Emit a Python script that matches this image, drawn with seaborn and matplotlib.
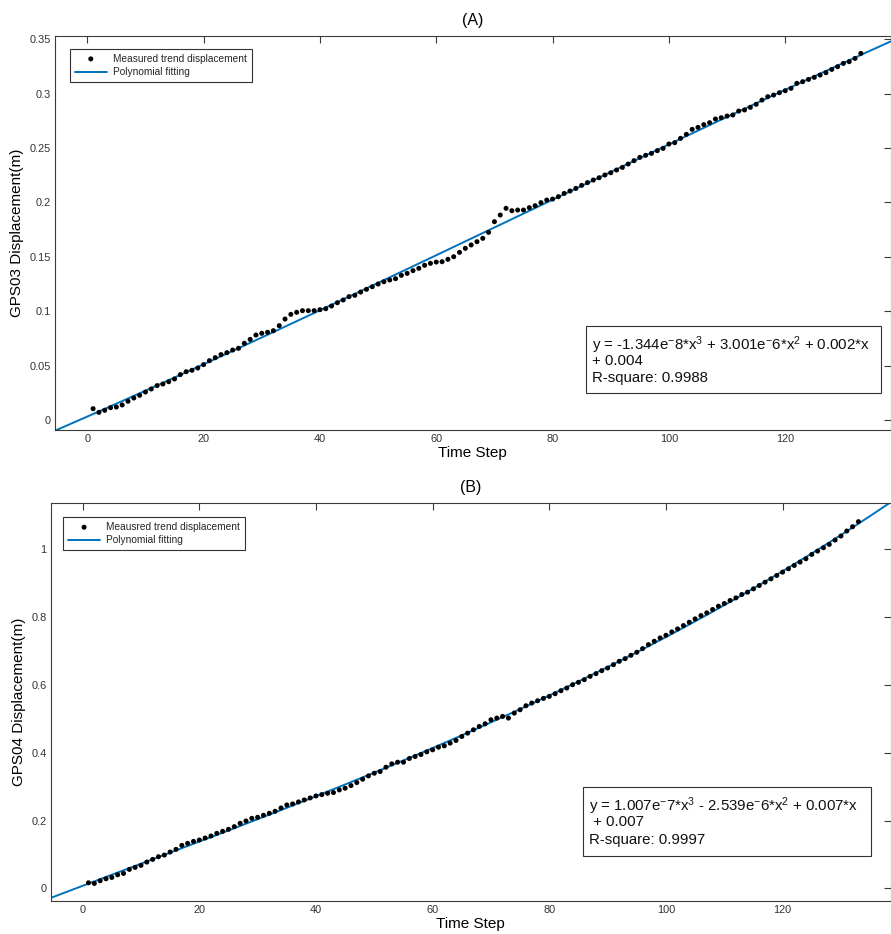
import numpy as np
import pandas as pd
import matplotlib
matplotlib.use("Agg")
import matplotlib.pyplot as plt
import seaborn as sns
from matplotlib.ticker import FuncFormatter
from matplotlib.patches import Rectangle

# ---------------- data ----------------
time_step = list(range(1, 134))

gps03_disp = [
    0.0104, 0.0070, 0.0089, 0.0113, 0.0119, 0.0138, 0.0172, 0.0202, 0.0227, 0.0257,
    0.0285, 0.0316, 0.0331, 0.0352, 0.0377, 0.0417, 0.0444, 0.0457, 0.0478, 0.0509,
    0.0545, 0.0573, 0.0601, 0.0619, 0.0643, 0.0659, 0.0705, 0.0741, 0.0781, 0.0797,
    0.0806, 0.0821, 0.0867, 0.0928, 0.0971, 0.0990, 0.1005, 0.1005, 0.1005, 0.1014,
    0.1023, 0.1048, 0.1078, 0.1103, 0.1134, 0.1146, 0.1176, 0.1201, 0.1225, 0.1250,
    0.1271, 0.1287, 0.1299, 0.1330, 0.1348, 0.1373, 0.1394, 0.1422, 0.1440, 0.1452,
    0.1455, 0.1477,
    0.1501, 0.1541, 0.1578, 0.1609, 0.1639, 0.1670, 0.1725, 0.1823,
    0.1884, 0.1946, 0.1924, 0.1930, 0.1930, 0.1952, 0.1970, 0.1998, 0.2022, 0.2031,
    0.2053, 0.2083, 0.2105, 0.2129, 0.2157, 0.2182, 0.2206, 0.2227, 0.2252, 0.2273,
    0.2298, 0.2322, 0.2353, 0.2384, 0.2414, 0.2433, 0.2451, 0.2476, 0.2497, 0.2537,
    0.2549, 0.2589, 0.2626, 0.2672, 0.2690, 0.2715, 0.2733, 0.2767, 0.2779, 0.2794,
    0.2804, 0.2840, 0.2850, 0.2874, 0.2902, 0.2941, 0.2972, 0.2987, 0.3009, 0.3027,
    0.3049, 0.3095, 0.3110, 0.3131, 0.3150, 0.3171, 0.3193, 0.3223, 0.3248, 0.3278,
    0.3294, 0.3324, 0.3370,
]

gps04_disp = [
    0.0167, 0.0148, 0.0227, 0.0286, 0.0325, 0.0404, 0.0443, 0.0562, 0.0621, 0.0680,
    0.0778, 0.0857, 0.0936, 0.0985, 0.1074, 0.1153, 0.1271, 0.1330, 0.1389, 0.1429,
    0.1488, 0.1547, 0.1626, 0.1685, 0.1744, 0.1823, 0.1921, 0.1990, 0.2069, 0.2099,
    0.2158, 0.2217, 0.2276, 0.2374, 0.2463, 0.2493, 0.2552, 0.2611, 0.2670, 0.2729,
    0.2768, 0.2808, 0.2828, 0.2906, 0.2956, 0.3034, 0.3123, 0.3222, 0.3320, 0.3399,
    0.3448, 0.3576, 0.3675, 0.3724, 0.3724, 0.3833, 0.3892, 0.3951, 0.4030, 0.4089,
    0.4167, 0.4207,
    0.4286, 0.4365, 0.4483, 0.4581, 0.4680, 0.4778, 0.4857, 0.4975,
    0.5025, 0.5074, 0.5025, 0.5172, 0.5271, 0.5389, 0.5468, 0.5537, 0.5606, 0.5665,
    0.5744, 0.5833, 0.5911, 0.6010, 0.6079, 0.6158, 0.6256, 0.6335, 0.6424, 0.6502,
    0.6601, 0.6700, 0.6778, 0.6877, 0.6966, 0.7074, 0.7192, 0.7291, 0.7389, 0.7468,
    0.7567, 0.7655, 0.7754, 0.7852, 0.7951, 0.8049, 0.8128, 0.8227, 0.8325, 0.8404,
    0.8493, 0.8571, 0.8670, 0.8739, 0.8837, 0.8936, 0.9034, 0.9133, 0.9232, 0.9330,
    0.9429, 0.9527, 0.9626, 0.9724, 0.9852, 0.9951, 1.0049, 1.0148, 1.0276, 1.0394,
    1.0542, 1.0670, 1.0818,
]

titles = ["(A)", "(B)"]
ylabels = ["GPS03 Displacement(m)", "GPS04 Displacement(m)"]
legend_meas = ["Measured trend displacement", "Meausred trend displacement"]
legend_fit = "Polynomial fitting"
eq_lines = [
    ["y = -1.344e$^{-}$8*x$^{3}$ + 3.001e$^{-}$6*x$^{2}$ + 0.002*x", "+ 0.004", "R-square: 0.9988"],
    ["y = 1.007e$^{-}$7*x$^{3}$ - 2.539e$^{-}$6*x$^{2}$ + 0.007*x", " + 0.007", "R-square: 0.9997"],
]
x_ticks = [0, 20, 40, 60, 80, 100, 120]
y_ticks = [[0, 0.05, 0.1, 0.15, 0.2, 0.25, 0.3, 0.35], [0, 0.2, 0.4, 0.6, 0.8, 1.0]]

# ---------------- style ----------------
sns.set_theme(style="white")
plt.rcParams["font.family"] = ["Liberation Sans", "DejaVu Sans"]
plt.rcParams["mathtext.fontset"] = "custom"
plt.rcParams["mathtext.rm"] = "Liberation Sans"
plt.rcParams["mathtext.it"] = "Liberation Sans"

W, H = 891, 934
fig = plt.figure(figsize=(W / 100, H / 100), dpi=100)
fig.patch.set_facecolor("white")

def rect(l, t, r, b):
    return [l / W, 1 - b / H, (r - l) / W, (b - t) / H]

axes_px = [(55, 36, 890.5, 430), (50.7, 503.3, 890.5, 901)]
xlims = [(-5.55, 138.1), (-5.48, 138.5)]
ylims = [(-0.0092, 0.353), (-0.037, 1.136)]
legend_boxes = [(70, 49, 253, 82), (63.3, 517.3, 247.3, 551)]
eq_boxes = [(585.7, 325.7, 881.3, 392.7), (583.3, 787.3, 870.7, 856)]
eq_line_y = [[342, 359.5, 377], [333, 350.5, 368.5]]  # px offsets (first panel abs, second rel to 470)

series = [gps03_disp, gps04_disp]
line_color = "#0072BD"
spine_color = "#3a3a3a"

for i in range(2):
    l, t, r, b = axes_px[i]
    ax = fig.add_axes(rect(l, t, r, b))
    aw, ah = r - l, b - t
    to_ax = lambda px, py: ((px - l) / aw, 1 - (py - t) / ah)

    df = pd.DataFrame({"Time Step": time_step, "Disp": series[i]})
    coef = np.polyfit(df["Time Step"], df["Disp"], 3)
    xf = np.linspace(xlims[i][0], xlims[i][1], 400)
    fit_df = pd.DataFrame({"x": xf, "y": np.polyval(coef, xf)})

    sns.lineplot(data=fit_df, x="x", y="y", ax=ax, color=line_color, lw=1.4,
                 label=legend_fit, zorder=2)
    sns.scatterplot(data=df, x="Time Step", y="Disp", ax=ax, color="black", s=13,
                    edgecolor="none", label=legend_meas[i], zorder=3)

    ax.set_xlim(*xlims[i])
    ax.set_ylim(*ylims[i])
    ax.set_xticks(x_ticks)
    ax.set_yticks(y_ticks[i])
    ax.yaxis.set_major_formatter(FuncFormatter(lambda v, p: f"{v:g}"))
    ax.tick_params(direction="in", length=5, width=0.8, colors=spine_color,
                   labelsize=7.9, top=True, right=True, pad=3)
    for lab in ax.get_xticklabels() + ax.get_yticklabels():
        lab.set_color("#333333")
    for sp in ax.spines.values():
        sp.set_color(spine_color)
        sp.set_linewidth(0.8)
    ax.set_xlabel("Time Step", fontsize=11, labelpad=1, color="black")
    ax.set_ylabel(ylabels[i], fontsize=11, labelpad=4, color="black")
    ax.set_title(titles[i], fontsize=11.5, pad=8, color="black")

    handles, labels = ax.get_legend_handles_labels()
    order = [labels.index(legend_meas[i]), labels.index(legend_fit)]
    lb = legend_boxes[i]
    leg = ax.legend([handles[k] for k in order], [labels[k] for k in order],
                    loc="upper left", bbox_to_anchor=to_ax(lb[0], lb[1]),
                    fontsize=7.3, frameon=True, fancybox=False, framealpha=1,
                    edgecolor="#333333", borderpad=0.45, labelspacing=0.35,
                    handlelength=3.2, handletextpad=0.6, borderaxespad=0)
    leg.get_frame().set_linewidth(0.8)

    eb = eq_boxes[i]
    x0, y0 = to_ax(eb[0], eb[3])
    x1, y1 = to_ax(eb[2], eb[1])
    ax.add_patch(Rectangle((x0, y0), x1 - x0, y1 - y0, transform=ax.transAxes,
                           facecolor="white", edgecolor="#333333", lw=0.8, zorder=4))
    base = 0 if i == 0 else 470
    for k, line in enumerate(eq_lines[i]):
        tx, ty = to_ax(eb[0] + 6, base + eq_line_y[i][k])
        ax.text(tx, ty, line, transform=ax.transAxes, ha="left", va="center_baseline",
                fontsize=10.8, color="#111111", zorder=5)

fig.savefig("out.png", dpi=100, facecolor="white")
